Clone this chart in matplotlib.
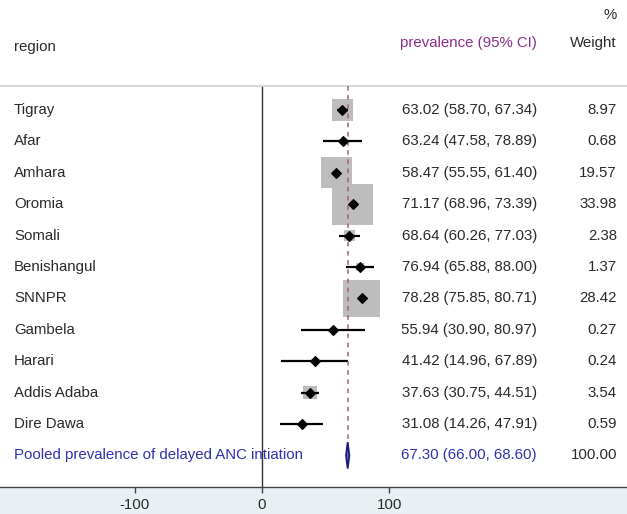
import numpy as np
import matplotlib
matplotlib.use("Agg")
import matplotlib.pyplot as plt
from matplotlib.patches import Rectangle, Polygon

plt.rcParams['font.family'] = ['Liberation Sans', 'DejaVu Sans']

regions = ["Tigray", "Afar", "Amhara", "Oromia", "Somali", "Benishangul",
           "SNNPR", "Gambela", "Harari", "Addis Adaba", "Dire Dawa"]
est = [63.02, 63.24, 58.47, 71.17, 68.64, 76.94, 78.28, 55.94, 41.42, 37.63, 31.08]
lo = [58.70, 47.58, 55.55, 68.96, 60.26, 65.88, 75.85, 30.90, 14.96, 30.75, 14.26]
hi = [67.34, 78.89, 61.40, 73.39, 77.03, 88.00, 80.71, 80.97, 67.89, 44.51, 47.91]
weight = [8.97, 0.68, 19.57, 33.98, 2.38, 1.37, 28.42, 0.27, 0.24, 3.54, 0.59]

pooled_label = "Pooled prevalence of delayed ANC intiation"
pooled = 67.30
pooled_lo = 66.00
pooled_hi = 68.60
pooled_w = 100.00

xticks = [-100, 0, 100]

W, H = 627, 514
DPI = 100
fig = plt.figure(figsize=(W / DPI, H / DPI), dpi=DPI)
fig.patch.set_facecolor('#e8f0f4')
bg = Rectangle((0, 1 - 487 / H), 1, 487 / H, transform=fig.transFigure,
               facecolor='white', edgecolor='none', zorder=-10)
fig.patches.append(bg)

# axes covering px 86..487 vertically, full width
ax_top, ax_bot = 86, 487
ax = fig.add_axes([0, 1 - ax_bot / H, 1, (ax_bot - ax_top) / H])
ax.set_facecolor('none')
ax.set_zorder(5)

px0, kx = 262, 1.273
ax.set_xlim((0 - px0) / kx, (W - px0) / kx)
row0, dy = 110, 31.4
ax.set_ylim((ax_bot - row0) / dy, (ax_top - row0) / dy)

n = len(regions)
ys = np.arange(n)

ax.axvline(0, color='#333333', lw=1.0, zorder=1)
ax.plot([pooled, pooled], [(ax_top - row0) / dy, n - 0.35], ls=(0, (3, 3)),
        color='#a0607a', lw=1.1, zorder=4)

# weight boxes
sides = 7.03 * np.sqrt(weight) * 72 / DPI
ax.scatter(est, ys, marker='s', s=sides ** 2, color='#bdbdbd', edgecolor='none', zorder=2)
ax.hlines(ys, lo, hi, color='black', lw=1.6, zorder=3)
ax.scatter(est, ys, marker='D', s=24, color='black', zorder=5)

# pooled diamond
yp = n
diamond = Polygon([[pooled_lo, yp], [pooled, yp - 0.42], [pooled_hi, yp], [pooled, yp + 0.42]],
                  closed=True, facecolor='#7070c0', edgecolor='#1a1a78', lw=1.3, zorder=5)
ax.add_patch(diamond)

for s in ['left', 'right']:
    ax.spines[s].set_visible(False)
ax.spines['top'].set_color('#d0d0d0')
ax.spines['top'].set_linewidth(1.2)
ax.spines['bottom'].set_color('#444444')
ax.spines['bottom'].set_linewidth(1.0)
ax.set_yticks([])
ax.set_xticks(xticks)
ax.set_xticklabels([str(t) for t in xticks])
ax.tick_params(axis='x', direction='out', length=4, width=1.0, color='#444444',
               labelsize=10.8, labelcolor='#2a2a2a', pad=4)

fs = 10.8
txt = '#2a2a2a'
blue = '#3030b0'
purple = '#8a2f8a'


def fx(p):
    return p / W


def fy(p):
    return 1 - p / H


fig.text(fx(14), fy(47), "region", fontsize=fs, color=txt, va='center', ha='left')
fig.text(fx(537), fy(43), "prevalence (95% CI)", fontsize=fs, color=purple, va='center', ha='right')
fig.text(fx(617), fy(43), "Weight", fontsize=fs, color=txt, va='center', ha='right')
fig.text(fx(617), fy(15), "%", fontsize=fs, color=txt, va='center', ha='right')

for i in range(n):
    yp_px = row0 + dy * i
    fig.text(fx(14), fy(yp_px), regions[i], fontsize=fs, color=txt, va='center', ha='left')
    fig.text(fx(537), fy(yp_px), f"{est[i]:.2f} ({lo[i]:.2f}, {hi[i]:.2f})", fontsize=fs,
             color=txt, va='center', ha='right')
    fig.text(fx(617), fy(yp_px), f"{weight[i]:.2f}", fontsize=fs, color=txt, va='center', ha='right')

yp_px = row0 + dy * n
fig.text(fx(14), fy(yp_px), pooled_label, fontsize=fs, color=blue, va='center', ha='left')
fig.text(fx(537), fy(yp_px), f"{pooled:.2f} ({pooled_lo:.2f}, {pooled_hi:.2f})", fontsize=fs,
         color=blue, va='center', ha='right')
fig.text(fx(617), fy(yp_px), f"{pooled_w:.2f}", fontsize=fs, color=txt, va='center', ha='right')

fig.savefig("out.png", dpi=DPI, facecolor=fig.get_facecolor())
